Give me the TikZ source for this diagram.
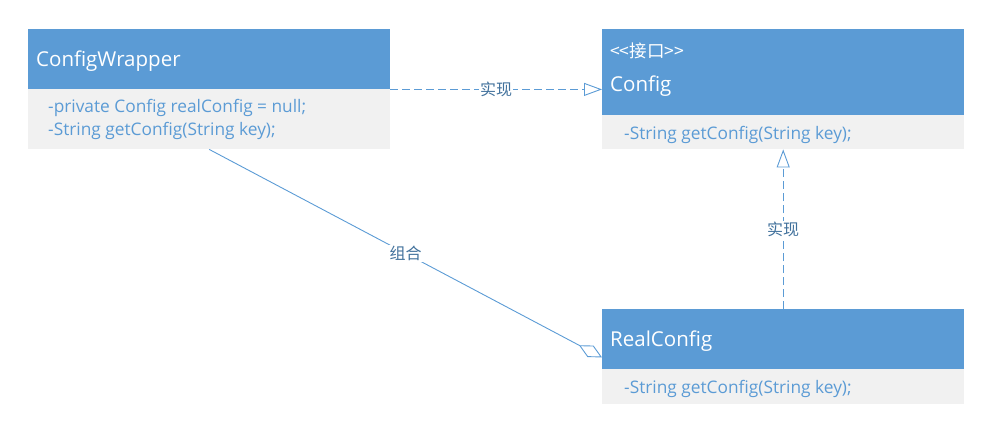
\documentclass[tikz,border=0pt]{standalone}
\usepackage{fontspec}
\setmainfont{Open Sans}
\newfontfamily\cjk{Noto Sans CJK SC}
\usepackage{xcolor}
\definecolor{umlBlue}{HTML}{5B9BD5}
\definecolor{umlGray}{HTML}{F1F1F1}
\definecolor{umlText}{HTML}{41719C}
\usepackage{tikz}
\usetikzlibrary{arrows.meta, positioning, calc}

\begin{document}
\begin{tikzpicture}[
				x=1pt, y=-1pt,
				every node/.style={inner sep=0pt},
				hdr/.style={fill=umlBlue, minimum width=362pt, anchor=north west},
				bdy/.style={fill=umlGray, minimum width=362pt, anchor=north west},
				ttl/.style={anchor=west, yshift=-2pt, text=white, font=\fontsize{20.5}{23}\selectfont},
				mbr/.style={anchor=west, yshift=-1.5pt, text=umlBlue, font=\fontsize{17.3}{19}\selectfont},
				rel/.style={draw=umlBlue, line width=0.9pt},
				realize/.style={rel, dash pattern=on 8pt off 4pt, -{Triangle[open, length=18pt, width=13pt]}},
				rellbl/.style={fill=white, text=umlText, font=\cjk\fontsize{16}{18}\selectfont, inner sep=1pt}
			]
				\useasboundingbox (0,0) rectangle (991,429);
				% ConfigWrapper
				\node[hdr, minimum height=60pt] (wrapH) at (28,29) {};
				\node[bdy, minimum height=60pt] (wrapB) at (28,89) {};
				\node[ttl] (wrapT) at (36,59) {ConfigWrapper};
				\node[mbr] (wrapM1) at (48,106) {-private Config realConfig = null;};
				\node[mbr] (wrapM2) at (48,129) {-String getConfig(String key);};
				% Config
				\node[hdr, minimum height=86pt] (cfgH) at (602,29) {};
				\node[bdy, minimum height=34pt] (cfgB) at (602,115) {};
				\node[ttl, font=\cjk\fontsize{17.5}{20}\selectfont] (cfgS) at (610,49) {\textless\textless 接口\textgreater\textgreater};
				\node[ttl] (cfgT) at (610,84) {Config};
				\node[mbr] (cfgM) at (624,133) {-String getConfig(String key);};
				% RealConfig
				\node[hdr, minimum height=60pt] (realH) at (602,309) {};
				\node[bdy, minimum height=35pt] (realB) at (602,369) {};
				\node[ttl] (realT) at (610,339) {RealConfig};
				\node[mbr] (realM) at (624,387) {-String getConfig(String key);};
				% relations
				\draw[realize] (wrapH.south east) -- node[rellbl] {实现} (wrapH.south east -| cfgH.west);
				\draw[realize] (realH.north) -- node[rellbl] {实现} (cfgB.south);
				\draw[rel, -{Diamond[open, length=26pt, width=13pt]}] (wrapB.south) -- node[rellbl] {组合} ([yshift=12pt]realH.south west);
			\end{tikzpicture}
\end{document}
